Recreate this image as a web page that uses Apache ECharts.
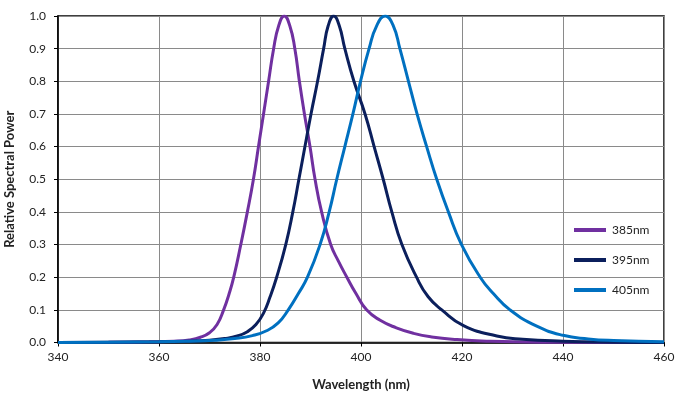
<!DOCTYPE html>
<html>
<head>
<meta charset="utf-8">
<script src="https://cdn.jsdelivr.net/npm/echarts@6/dist/echarts.min.js"></script>
<style>html,body{margin:0;padding:0;background:#fff}#c{width:680px;height:395px}</style>
</head>
<body>
<div id="c"></div>
<script>
var xTicks = [340, 360, 380, 400, 420, 440, 460];
var yTicks = [0, 0.1, 0.2, 0.3, 0.4, 0.5, 0.6, 0.7, 0.8, 0.9, 1.0];
var seriesNames = ['385nm', '395nm', '405nm'];

var s385 = [[340,0],[350,0.0005],[358,0.002],[363,0.004],[366,0.008],[368.2,0.016],[370,0.03],[371.5,0.055],[372.8,0.1],[373.9,0.15],[374.8,0.2],[376.2,0.3],[377.5,0.4],[378.7,0.5],[379.7,0.6],[380.7,0.7],[381.7,0.8],[382.7,0.9],[383.7,0.97],[384.8,1.0],[385.9,0.97],[386.9,0.9],[387.8,0.8],[388.8,0.7],[389.9,0.6],[390.9,0.5],[392.2,0.4],[394.0,0.3],[395.5,0.25],[397.2,0.2],[399,0.15],[401.1,0.1],[403.8,0.068],[407,0.045],[410.4,0.028],[414,0.017],[419,0.009],[425,0.004],[435,0.001],[460,0]];
var s395 = [[340,0],[350,0.001],[360,0.002],[366,0.004],[370,0.007],[373,0.012],[375.5,0.02],[377.5,0.033],[379.2,0.055],[380.7,0.09],[382.0,0.14],[383.3,0.2],[385.1,0.3],[386.5,0.4],[387.7,0.5],[388.9,0.6],[390.1,0.7],[391.4,0.8],[392.6,0.9],[393.5,0.97],[394.6,1.0],[395.7,0.97],[396.8,0.9],[398.6,0.8],[400.8,0.7],[402.6,0.6],[404.4,0.5],[406.1,0.4],[408.1,0.3],[411.0,0.2],[413.3,0.14],[416.0,0.1],[420.3,0.052],[426.9,0.02],[432,0.01],[440,0.004],[450,0.001],[460,0]];
var s405 = [[340,0],[350,0.001],[360,0.002],[366,0.004],[371,0.007],[375,0.012],[378.5,0.021],[381.3,0.036],[383.6,0.06],[385.6,0.1],[387.6,0.15],[389.4,0.2],[391.9,0.3],[393.7,0.4],[395.2,0.5],[396.8,0.6],[398.4,0.7],[399.9,0.8],[401.6,0.9],[403.1,0.97],[404.8,1.0],[406.4,0.97],[407.7,0.9],[409.4,0.8],[411.1,0.7],[413.0,0.6],[415.0,0.5],[417.3,0.4],[419.9,0.3],[423.6,0.2],[426.2,0.15],[429.5,0.1],[434.8,0.05],[440,0.022],[445,0.011],[450,0.006],[460,0.002]];

var colors = ['#7030A0', '#0B1F5C', '#0070C0'];
var font = 'Lato, "Open Sans", sans-serif';

var chart = echarts.init(document.getElementById('c'), null, {renderer: 'canvas'});
function mk(name, data, color) {
  return {
    name: name, type: 'line', data: data, smooth: 0.5,
    showSymbol: false, symbol: 'none',
    lineStyle: {color: color, width: 3}, itemStyle: {color: color},
    animation: false
  };
}
chart.setOption({
  animation: false,
  backgroundColor: '#fff',
  grid: {left: 58, right: 16, top: 16, bottom: 52.5, show: true, borderColor: '#000', borderWidth: 1.5,
         backgroundColor: 'transparent', containLabel: false, outerBoundsMode: 'none'},
  legend: {
    orient: 'vertical', left: 569, top: 219, itemWidth: 32, itemHeight: 4, itemGap: 18,
    icon: 'rect', data: seriesNames,
    textStyle: {fontFamily: font, fontSize: 12, color: '#222', padding: [0, 0, 0, 1]}
  },
  xAxis: {
    type: 'value', min: xTicks[0], max: xTicks[xTicks.length - 1], interval: 20,
    name: 'Wavelength (nm)', nameLocation: 'middle', nameGap: 36,
    nameTextStyle: {fontFamily: font, fontSize: 13, fontWeight: 'bold', color: '#222'},
    axisLine: {lineStyle: {color: '#000', width: 1.5}},
    axisTick: {show: true, inside: false, length: 4, lineStyle: {color: '#000'}},
    axisLabel: {fontFamily: font, fontSize: 12, color: '#222', margin: 9},
    splitLine: {show: true, lineStyle: {color: '#8a8a8a', width: 1}}
  },
  yAxis: {
    type: 'value', min: yTicks[0], max: yTicks[yTicks.length - 1], interval: 0.1,
    name: 'Relative Spectral Power', nameLocation: 'middle', nameGap: 42,
    nameTextStyle: {fontFamily: font, fontSize: 13, fontWeight: 'bold', color: '#222'},
    axisLine: {show: true, lineStyle: {color: '#000', width: 1.5}},
    axisTick: {show: true, inside: false, length: 4, lineStyle: {color: '#000'}},
    axisLabel: {fontFamily: font, fontSize: 12, color: '#222', margin: 12, formatter: function (v) { return v.toFixed(1); }},
    splitLine: {show: true, lineStyle: {color: '#8a8a8a', width: 1}}
  },
  series: [mk(seriesNames[0], s385, colors[0]), mk(seriesNames[1], s395, colors[1]), mk(seriesNames[2], s405, colors[2])]
});
</script>
</body>
</html>
